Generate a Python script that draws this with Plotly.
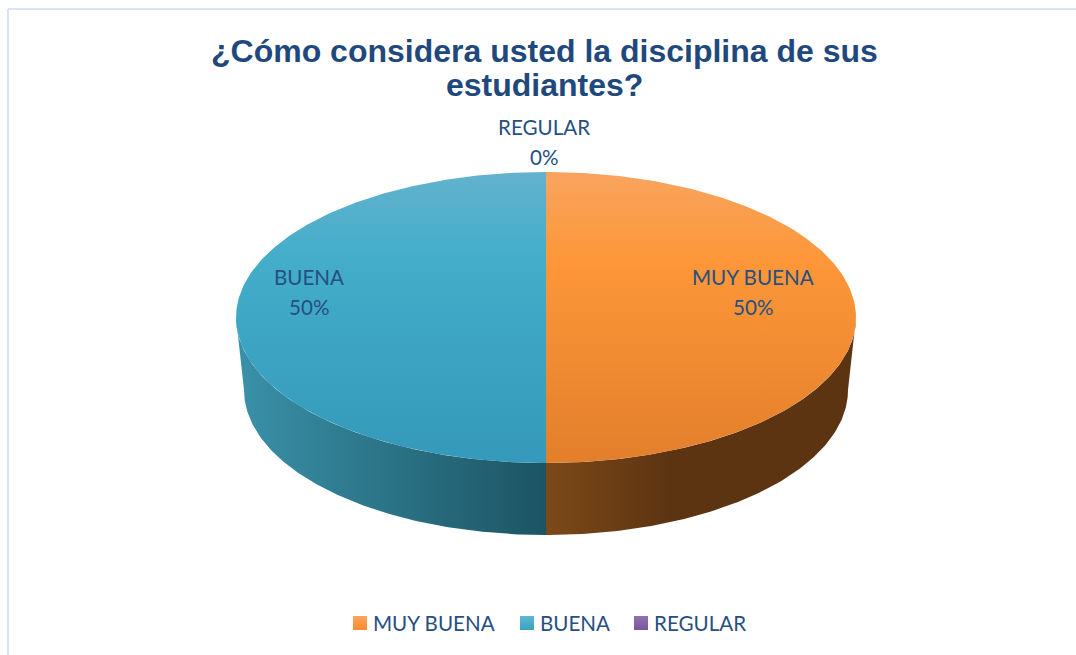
import numpy as np
import plotly.graph_objects as go

# chart data
categories = ["MUY BUENA", "BUENA", "REGULAR"]
values = [50, 50, 0]

title_lines = ["¿Cómo considera usted la disciplina de sus", "estudiantes?"]

# colours per category
top_colors = [
    [[0, "#f8a45f"], [0.3, "#fd9739"], [1, "#e37f2b"]],
    [[0, "#63b2cd"], [0.3, "#43adca"], [1, "#3499ba"]],
    [[0, "#9272ae"], [1, "#7b5a9e"]],
]
side_colors = [
    [[0, "#7c4919"], [0.4, "#5c3412"], [1, "#5c3412"]],
    [[0, "#3a91a9"], [1, "#1c5463"]],
    [[0, "#5f4578"], [1, "#5f4578"]],
]
swatch_colors = [("#fda55f", "#f98a2e"), ("#62b6d0", "#38a3c0"), ("#9272ae", "#7a569c")]

# label centres and legend positions in pixels
label_pos = [(753, 276.5), (308.5, 276.5), (544, 126.5)]
swatch_x = [360, 527, 641]
legend_text_x = [371, 538, 652]

TEXT_COLOR = "#264f82"
TITLE_COLOR = "#1f497d"
FRAME_COLOR = "#d6e4f5"
BODY_FONT = "Lato"
BODY_SIZE = 20.6

# pie geometry, in pixels
CX = 546
TOP_CY, TOP_RX, TOP_RY = 317.5, 310, 145.5
BOT_CY, BOT_RX, BOT_RY = 390, 302, 145


def rim(theta, cy, rx, ry):
    # clock angle in degrees, 0 at 12 o'clock going clockwise
    t = np.radians(theta)
    return CX + rx * np.sin(t), cy - ry * np.cos(t)


fig = go.Figure()

total = sum(values)
start = 0
for i, (name, value) in enumerate(zip(categories, values)):
    end = start + 360 * value / total

    # side wall, only the part facing the viewer (90 to 270 degrees)
    lo, hi = max(start, 90), min(end, 270)
    if hi > lo:
        theta = np.linspace(lo, hi, 120)
        x1, y1 = rim(theta, TOP_CY, TOP_RX, TOP_RY)
        x2, y2 = rim(theta[::-1], BOT_CY, BOT_RX, BOT_RY)
        xs = np.concatenate([x1, x2])
        fig.add_trace(go.Scatter(
            x=xs, y=np.concatenate([y1, y2]),
            mode="lines", line=dict(width=0), fill="toself",
            fillgradient=dict(type="horizontal", colorscale=side_colors[i],
                              start=xs.min(), stop=xs.max()),
            hoverinfo="skip", showlegend=False,
        ))

    # top face
    theta = np.linspace(start, end, 240)
    x1, y1 = rim(theta, TOP_CY, TOP_RX, TOP_RY)
    fig.add_trace(go.Scatter(
        x=np.concatenate([[CX], x1]), y=np.concatenate([[TOP_CY], y1]),
        mode="lines", line=dict(width=0), fill="toself",
        fillgradient=dict(type="vertical", colorscale=top_colors[i],
                          start=TOP_CY - TOP_RY, stop=TOP_CY + TOP_RY),
        name=name, hoverinfo="skip", showlegend=False,
    ))

    # data label, two lines
    lx, ly = label_pos[i]
    fig.add_annotation(x=lx, y=ly, text=name, showarrow=False,
                       font=dict(family=BODY_FONT, size=BODY_SIZE, color=TEXT_COLOR))
    fig.add_annotation(x=lx, y=ly + 30, text=f"{value / total:.0%}", showarrow=False,
                       font=dict(family=BODY_FONT, size=BODY_SIZE, color=TEXT_COLOR))

    # legend row
    fig.add_trace(go.Scatter(
        x=[swatch_x[i]], y=[623], mode="markers",
        marker=dict(symbol="square", size=14, color=swatch_colors[i][0],
                    gradient=dict(type="vertical", color=swatch_colors[i][1])),
        hoverinfo="skip", showlegend=False,
    ))
    fig.add_annotation(x=legend_text_x[i], y=623, text=name, showarrow=False, xanchor="left",
                       font=dict(family=BODY_FONT, size=BODY_SIZE, color=TEXT_COLOR))

    start = end

# title
for line, y in zip(title_lines, [51, 85]):
    fig.add_annotation(x=544, y=y, text=f"<b>{line}</b>", showarrow=False,
                       font=dict(family="Liberation Sans", size=32, color=TITLE_COLOR))

fig.update_xaxes(range=[0, 1076], visible=False)
fig.update_yaxes(range=[655, 0], visible=False)
fig.update_layout(
    width=1076, height=655,
    margin=dict(l=0, r=0, t=0, b=0),
    paper_bgcolor="white", plot_bgcolor="white",
    shapes=[
        # chart frame, open at the right and the bottom
        dict(type="line", x0=8, x1=8, y0=9, y1=655, line=dict(color=FRAME_COLOR, width=2)),
        dict(type="line", x0=8, x1=1076, y0=9, y1=9, line=dict(color=FRAME_COLOR, width=2)),
    ],
)

# the page's default body margin would push the chart 8px in
fig.write_html("out.html", config={"displayModeBar": False},
               post_script="document.body.style.margin = '0';")
